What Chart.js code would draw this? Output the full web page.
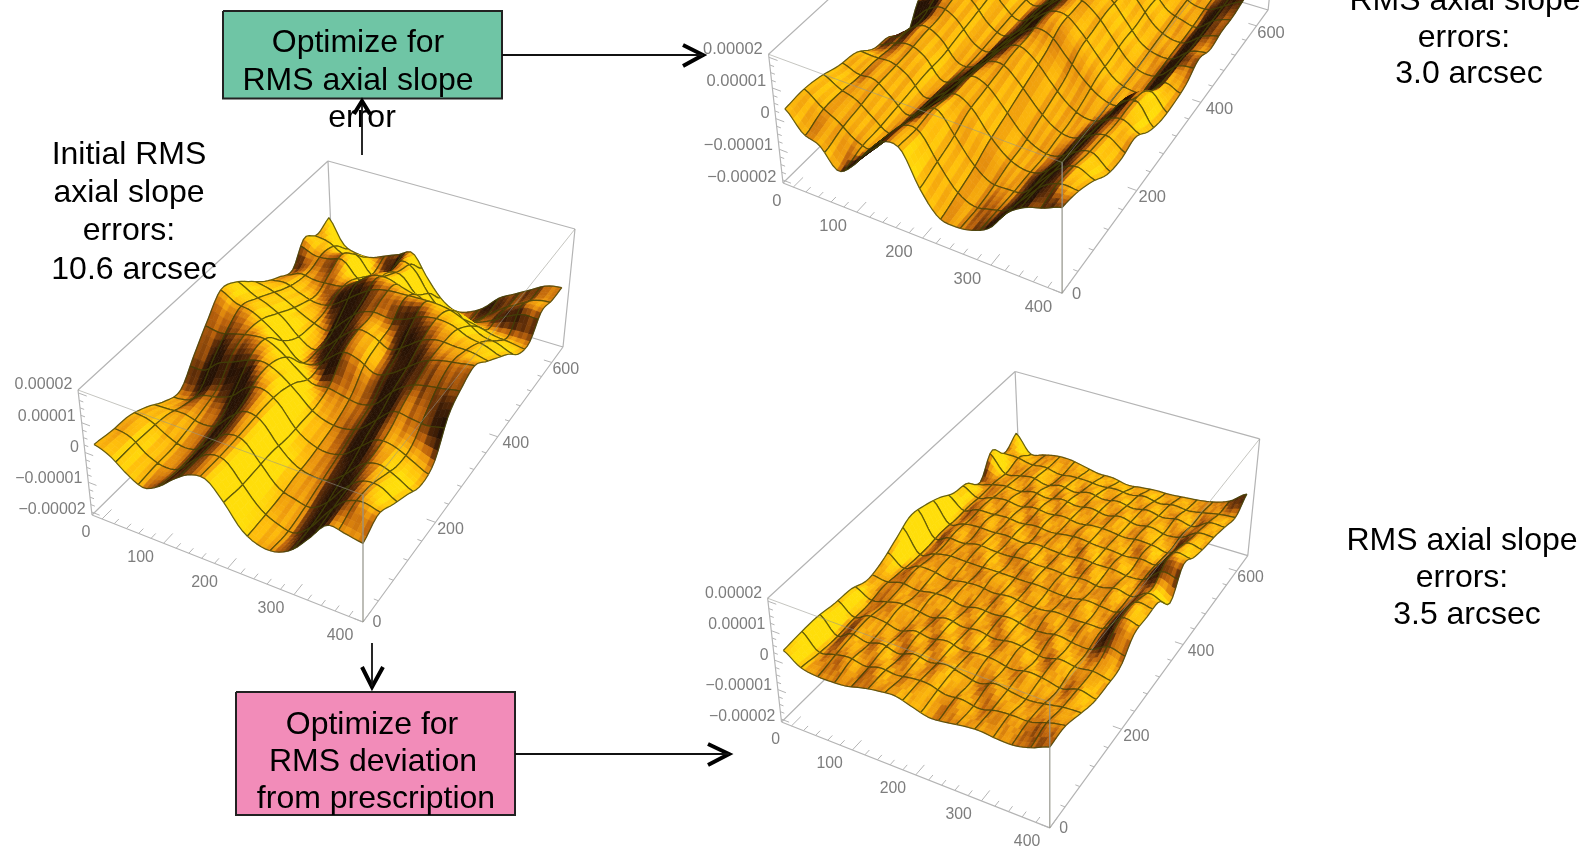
<!DOCTYPE html>
<html><head><meta charset="utf-8">
<style>html,body{margin:0;padding:0;background:#fff;overflow:hidden}#wrap{width:1587px;height:850px}</style>
<script src="https://cdn.jsdelivr.net/npm/chart.js@4"></script></head>
<body><div id="wrap"><canvas id="c" width="1587" height="850"></canvas></div>
<script>
// Surface heights in units of 1e-6, rows y = 0..600, columns x = 0..400
const heightsInitial = [
[4,2,-2,-4.5,-2,2.5,6,6.5,1,-6,-9,-9,-6,0,6.5,6,5],
[3,2,-2,-4,-3,2,6,6,0,-6,-9,-10,-6,1,7,9,8],
[2.5,1.5,-2,-4,-3,2,6,6,0,-6,-8,-9,-5,2,7,8,5],
[0,0,-1,-3,-2,3,7,6,0,-5,-7,-7,-3,3,6,5,2],
[-3.5,-3,-1,-1,0,5,8,6,-1,-5,-6,-5,-1,4,5,2,-1],
[-5,-4,0,2,5,9,9,5,-1,-4,-5,-3,2,6,5,3,1],
[2,2,6,8,10,10,7,3,-1,-3,-3,-1,4,9,9,9,11],
[9,8,9,10,10,7,3,0,1,0,-1,1,7,11,13,14,15],
[15,12,11,8,4,-1,-1,3,7,6,3,5,9,13,15,16,17],
[13,10,8,5,0,-3,0,5,9,8,5,8,12,14,14,14,13],
[8.5,7,5,2,-1,-3,2,7,9,8,9,12,14,14,12,11,9],
[4,4,2,0,-1,1,5,9,11,12,13,14,13,11,8,7,5],
[1,2,0,-1,1,5,9,11,11,10,9,8,8,6,3,2,0],
[-1,1,1,2,1,3,7,7,4,2,0,-1,-1,-1,-1,-1,-1],
[6,3,3,4,-2,-4,3,4,-2,-7,-9,-8,-5,-2,2,5,5],
[3,2,-1,0,-5,-4,3,1,-6,-11,-13,-11,-7,-3,0,3,4],
[5,-3,-5,-5,-3,-1,1,-6,-12,-15,-14,-11,-6,-3,0,3,4]];
const heightsSlope = [
[4.5,-1.5,-3.5,-9.5,-6,1,6,5.5,-5,-12,-13,-12,-9,-2,2,4,6.5],
[5,1,-2,-6,-7,-1,5,5,-3,-10,-13,-12,-10,-4,2,5,5],
[4,1,-1,-5,-8,-3,3,6,-1,-8,-12,-12,-11,-5,1,4,2],
[2,0,0,-4,-8,-4,1,5,2,-5,-10,-12,-11,-6,0,2,-2],
[1,0,0,-3,-8,-5,0,5,3,-3,-9,-12,-12,-8,-1,1,-3],
[-3,-1,0,-2,-8,-6,-1,4,4,-1,-7,-11,-12,-9,-2,0,-2],
[-4,-1,1,-2,-8,-7,-2,3,5,1,-5,-10,-12,-10,-3,0,-6],
[-9,-2,1,-1,-7,-8,-3,2,5,3,-3,-8,-11,-11,-4,-1,-8],
[-1,1,3,0,-6,-8,-4,1,6,6,1,-5,-10,-12,-11,-5,-8],
[-1,1,3,1,-5,-8,-5,1,5,6,2,-4,-10,-12,-11,-6,-7],
[-1,1,3,2,-4,-8,-5,0,5,6,3,-3,-9,-12,-11,-6,-4],
[-2,0,2,2,-4,-8,-6,0,5,6,3,-3,-9,-11,-11,-7,-6],
[-3,0,2,2,-3,-8,-6,-1,4,6,4,-2,-8,-11,-11,-7,-5],
[-4,-1,2,2,-3,-8,-6,-1,4,6,4,-2,-8,-10,-11,-7,-5],
[-4,-1,1,2,-2,-7,-6,-1,4,6,4,-1,-7,-10,-10,-7,-4],
[-3,-1,1,2,-2,-7,-6,-1,4,5,4,-1,-7,-9,-10,-7,-3],
[-2,0,1,1,-2,-6,-5,-1,3,5,3,-1,-6,-9,-9,-6,-2]];
const heightsPrescription = [
[4.6,1,0,0,0.5,2,3,3.5,2,0.5,1,2,2.5,2,2,3.5,6],
[5,0,1,2,1,2.5,2,3,3,1.5,2,1,2.5,3,3,5,6.3],
[5,-0.5,2,1,2.5,1,3,2,3.5,2,1,3,2,1.5,2.5,3.5,4],
[4,0,2.5,2,1,3,2,3.5,2,3,2.5,1.5,3,2,1,3,1.8],
[3.6,0,1.5,3,2,1.5,3.5,2,3,1.5,3,2.5,1,3,2,2.5,1.5],
[1.5,1,2,1.5,3,2.5,1.5,3,2,3.5,2,1.5,3,1.5,1.5,3.5,2],
[3,0.5,3,2.5,1.5,3,2.5,2,3.5,2,2.5,3,2,3,3,8,7.3],
[6,0,2,3,2.5,2,3.5,3,2,3,1.5,2.5,3.5,2,3,9,7.5],
[9,0,1.5,2.5,3,3.5,2,2.5,3.5,2.5,3,2,2.5,3.5,2.5,7,7.3],
[8,0.5,2.5,1.5,3,2,3,3.5,2,3,2,3.5,2,3,2.5,5,1.6],
[6,0,1.5,3,2,3,1.5,2.5,3,2,3.5,2,3,1.5,3,9,9.5],
[3,0,2,1.5,2.5,1.5,3,2,2.5,3.5,2,2.5,1.5,3,2,8,7],
[2,-0.5,1,2,1,2.5,1.5,2.5,1.5,2,2.5,1.5,2.5,1.5,1,6,5.5],
[-2,-0.5,0.5,0,1.5,0.5,2,1,2,1,2,1,1.5,0.5,1.5,4.5,4.6],
[5,-1,-0.5,0.5,-1,0.5,-0.5,1,0,1,0,1,0,1,0,3,3],
[0,0,-1,-0.5,-1.5,-1,-1,-1.5,-1,-1.5,-0.5,-1.5,-0.5,-1,0,1,1.6],
[3,-3,-2,-1,-1,-2,-3,-3,-4,-3.5,-3,-3,-2.5,-2,-1,1,5]];
const xTicks = [0,100,200,300,400];
const yTicks = [0,200,400,600];
const zTicks = [0.00002,0.00001,0,-0.00001,-0.00002];
const zTickLabels = ['0.00002','0.00001','0','\u22120.00001','\u22120.00002'];
const captions = [
 ['Optimize for',358,43.5],['RMS axial slope',358,81],['error',362,118],
 ['Initial RMS',129,155],['axial slope',129,193],['errors:',129,231],['10.6 arcsec',134,270],
 ['RMS axial slope',1465,1],['errors:',1464,38],['3.0 arcsec',1469,74],
 ['RMS axial slope',1462,541],['errors:',1462,578],['3.5 arcsec',1467,615],
 ['Optimize for',372,725],['RMS deviation',373,762],['from prescription',376,799]];
// fine shading streaks across x, hand-set per control interval quarter
const streaks=[.03,-.05,.06,-.02,.08,-.07,.02,.05,-.08,.04,-.03,.07,-.06,.01,.05,-.04,.08,-.05,-.01,.06,-.07,.03,.06,-.03,-.08,.05,.02,-.06,.07,-.02,.04,-.07];

const topC=[[78,390],[363,495],[575,229],[328,161]], botC=[[92,515],[363,622],[563,347],[333,278]];
const plots=[
 {h:heightsInitial,ox:92,oy:515,s:1,base:.6,dark:.105,bright:.075,mx:12,my:14,st:.7,blotch:0},
 {h:heightsSlope,ox:783,oy:183,s:1.03,base:.64,dark:.17,bright:.028,mx:14,my:15,st:1,blotch:0},
 {h:heightsPrescription,ox:781.5,oy:722,s:0.99,base:.62,dark:.085,bright:.085,mx:15,my:15,st:.8,blotch:1}];
const U0=0.04,V1=0.95,ZR=21;
function homog(p){const [[x0,y0],[x1,y1],[x2,y2],[x3,y3]]=p;
 const dx1=x1-x2,dx2=x3-x2,sx=x0-x1+x2-x3,dy1=y1-y2,dy2=y3-y2,sy=y0-y1+y2-y3,den=dx1*dy2-dx2*dy1;
 const g=(sx*dy2-dx2*sy)/den,h=(dx1*sy-sx*dy1)/den;
 const a=x1-x0+g*x1,b=x3-x0+h*x3,d=y1-y0+g*y1,e=y3-y0+h*y3;
 return (u,v)=>{const w=g*u+h*v+1;return [(a*u+b*v+x0)/w,(d*u+e*v+y0)/w];};}
const HT=homog(topC),HB=homog(botC);
function proj(pl,u,v,z){const t=(z+ZR)/(2*ZR),a=HB(u,v),b=HT(u,v);
 return {x:pl.ox+pl.s*(a[0]+(b[0]-a[0])*t-92),y:pl.oy+pl.s*(a[1]+(b[1]-a[1])*t-515)};}
const gridU=i=>U0+(1-U0)*i/16, gridV=j=>V1*j/16;
const axU=x=>U0+(1-U0)*x/400, axV=y=>0.93*y/600;
function cr(a,b,c,d,t){return b+.5*t*(c-a+t*(2*a-5*b+4*c-d+t*(3*(b-c)+d-a)));}
function zAt(h,fi,fj){const n=16,i=Math.min(Math.floor(fi),n-1),j=Math.min(Math.floor(fj),n-1),s=fi-i,t=fj-j;
 const cl=k=>Math.max(0,Math.min(n,k));const row=r=>cr(h[r][cl(i-1)],h[r][i],h[r][i+1],h[r][cl(i+2)],s);
 return cr(row(cl(j-1)),row(j),row(j+1),row(cl(j+2)),t);}
const stops=[[0,[38,18,5]],[.22,[92,44,8]],[.42,[190,100,12]],[.6,[236,150,14]],[.78,[255,190,12]],[1,[255,222,10]]];
function shade(L){L=Math.max(0,Math.min(1,L));for(let k=1;k<stops.length;k++){if(L<=stops[k][0]){const a=stops[k-1],b=stops[k],t=(L-a[0])/(b[0]-a[0]);
 return 'rgb('+[0,1,2].map(q=>Math.round(a[1][q]+(b[1][q]-a[1][q])*t)).join(',')+')';}}return 'rgb(255,222,10)';}
function seg(list,p,q){list.push(p,q,{x:NaN,y:NaN});}
function boxLines(pl){const c=(u,v,z)=>proj(pl,u,v,z),back=[],front=[],ticks=[];
 const Z=ZR;
 seg(back,c(0,0,Z),c(0,1,Z));seg(back,c(0,1,Z),c(1,1,Z));seg(back,c(0,0,-Z),c(0,1,-Z));seg(back,c(0,1,-Z),c(1,1,-Z));seg(back,c(0,1,Z),c(0,1,-Z));
 seg(back,c(0,0,Z),c(0,0,-Z));seg(back,c(1,1,Z),c(1,1,-Z));seg(back,c(0,0,-Z),c(1,0,-Z));seg(back,c(1,0,-Z),c(1,1,-Z));
 seg(front,c(0,0,Z),c(1,0,Z));seg(front,c(1,0,Z),c(1,1,Z));seg(front,c(1,0,Z),c(1,0,-Z));
 for(let x=0;x<=400;x+=20){const L=x%100==0?.032:.016;seg(ticks,c(axU(x),0,-Z),c(axU(x),L,-Z));}
 for(let y=0;y<=600;y+=40){const L=y%200==0?.032:.016;seg(ticks,c(1,axV(y),-Z),c(1-L,axV(y),-Z));}
 for(let z=-20;z<=20;z+=2.5){const L=z%10==0?.032:.016;seg(ticks,c(0,0,z),c(L,0,z));}
 return {back,front,ticks};}
const G='#b4b4b4';
const lineDs=(data,color,w,extra)=>Object.assign({type:'scatter',data,showLine:true,spanGaps:false,pointRadius:0,borderColor:color,borderWidth:w,fill:false},extra||{});
const datasets=[];
plots.forEach((pl,k)=>{const b=boxLines(pl);
 datasets.push(lineDs(b.back,G,1.2,{label:'box back '+k,order:30}));
 datasets.push(lineDs(b.ticks,G,1,{label:'ticks '+k,order:29}));
 const pts=[];pl.h.forEach((r,j)=>r.forEach((z,i)=>pts.push(proj(pl,gridU(i),gridV(j),z))));
 datasets.push({type:'scatter',label:'surface '+k,data:pts,pointRadius:0,showLine:false,order:20,surface:pl});
 datasets.push(lineDs(b.front,'rgba(150,150,140,.55)',1,{label:'box front '+k,order:10}));
});
const box1=[{x:223,y:11},{x:502,y:11},{x:502,y:98.5},{x:223,y:98.5},{x:223,y:11}];
const box2=[{x:236,y:692},{x:515,y:692},{x:515,y:815},{x:236,y:815},{x:236,y:692}];
datasets.push(lineDs(box1,'#222',2,{label:'box optimize slope',fill:'shape',backgroundColor:'#6fc5a5',order:8}));
datasets.push(lineDs(box2,'#222',2,{label:'box optimize deviation',fill:'shape',backgroundColor:'#f28cb9',order:8}));
const shafts=[];seg(shafts,{x:502,y:55},{x:703,y:55});seg(shafts,{x:372,y:643},{x:372,y:686});seg(shafts,{x:515,y:754},{x:729,y:754});
const heads=[];
[[[683,45],[703,55],[683,66]],[[362,667],[372,687],[383,667]],[[708,744],[729,754],[708,765]]].forEach(h=>{h.forEach(p=>heads.push({x:p[0],y:p[1]}));heads.push({x:NaN,y:NaN});});
datasets.push(lineDs(shafts,'#111',1.8,{label:'arrows',order:2}));
datasets.push(lineDs(heads,'#000',4,{label:'arrow heads',order:2}));

const surfacePlugin={id:'surface',
 beforeDatasetDraw(chart,args){const ds=chart.data.datasets[args.index];if(!ds.surface)return;
  const pl=ds.surface,h=pl.h,ctx=chart.ctx,sx=chart.scales.x,sy=chart.scales.y;
  const KX=16/pl.mx,KY=16/pl.my,NX=5,NY=5;
  const P=(fi,fj)=>{const q=proj(pl,gridU(fi),gridV(fj),zAt(h,fi,fj));return [sx.getPixelForValue(q.x),sy.getPixelForValue(q.y)];};
  ctx.save();ctx.lineJoin='round';
  for(let j=pl.my-1;j>=0;j--)for(let i=0;i<pl.mx;i++){
   for(let b=NY-1;b>=0;b--)for(let a=0;a<NX;a++){
    const f0=(i+a/NX)*KX,f1=(i+(a+1)/NX)*KX,g0=(j+b/NY)*KY,g1=(j+(b+1)/NY)*KY,fm=(f0+f1)/2,gm=(g0+g1)/2;
    const s=(zAt(h,f1,gm)-zAt(h,f0,gm))/(f1-f0),t=(zAt(h,fm,g1)-zAt(h,fm,g0))/(g1-g0);
    let k=Math.floor(fm*4);if(pl.blotch)k+=Math.floor(gm*3)*7;
    const st=streaks[k%streaks.length]*pl.st;
    const L=pl.base-(s>0?pl.dark:pl.bright)*s-.045*t+st,c=shade(L);
    ctx.beginPath();let p=P(f0,g0);ctx.moveTo(p[0],p[1]);p=P(f1,g0);ctx.lineTo(p[0],p[1]);p=P(f1,g1);ctx.lineTo(p[0],p[1]);p=P(f0,g1);ctx.lineTo(p[0],p[1]);ctx.closePath();
    ctx.fillStyle=c;ctx.strokeStyle=c;ctx.lineWidth=.7;ctx.fill();ctx.stroke();}
   ctx.strokeStyle='rgba(66,66,8,.8)';ctx.lineWidth=1.25;ctx.beginPath();
   const edge=(a0,b0,a1,b1)=>{for(let m=0;m<=NY;m++){const p=P((a0+(a1-a0)*m/NY)*KX,(b0+(b1-b0)*m/NY)*KY);m?ctx.lineTo(p[0],p[1]):ctx.moveTo(p[0],p[1]);}};
   edge(i,j,i+1,j);edge(i,j+1,i+1,j+1);edge(i,j,i,j+1);edge(i+1,j,i+1,j+1);ctx.stroke();
  }
  ctx.restore();},
 afterDatasetsDraw(chart){const ctx=chart.ctx,sx=chart.scales.x,sy=chart.scales.y;ctx.save();
  ctx.textBaseline='middle';
  const yDx=[14,15,18,14],yDy=[1,7,7,7];
  plots.forEach(pl=>{ctx.font=(16*pl.s).toFixed(1)+'px "Liberation Sans"';ctx.fillStyle='#7d7d7d';
   const put=(txt,q,dx,dy,al)=>{ctx.textAlign=al;ctx.fillText(txt,sx.getPixelForValue(q.x)+dx*pl.s,sy.getPixelForValue(q.y)+dy*pl.s);};
   xTicks.forEach(x=>put(String(x),proj(pl,axU(x),0,-ZR),x==0?-16:-23,14,'center'));
   yTicks.forEach((y,k)=>put(String(y),proj(pl,1,axV(y),-ZR),yDx[k],yDy[k],'center'));
   zTicks.forEach((z,k)=>put(zTickLabels[k],proj(pl,0,0,z*1e6),-6,-5-z*1.5e5,'right'));
  });
  ctx.font='32px "Liberation Sans"';ctx.fillStyle='#000';ctx.textAlign='center';
  captions.forEach(c=>ctx.fillText(c[0],sx.getPixelForValue(c[1]),sy.getPixelForValue(c[2])));
  // the upward arrow crosses the word "error", so it is stroked after the captions
  const X=v=>sx.getPixelForValue(v),Y=v=>sy.getPixelForValue(v);
  ctx.strokeStyle='#111';ctx.lineWidth=1.8;ctx.beginPath();ctx.moveTo(X(362),Y(155));ctx.lineTo(X(362),Y(102));ctx.stroke();
  ctx.strokeStyle='#000';ctx.lineWidth=4;ctx.beginPath();ctx.moveTo(X(354),Y(114));ctx.lineTo(X(362),Y(101));ctx.lineTo(X(370),Y(114));ctx.stroke();
  ctx.restore();}
};
new Chart(document.getElementById('c'),{data:{datasets},plugins:[surfacePlugin],options:{
 responsive:false,animation:false,layout:{padding:0},events:[],
 plugins:{legend:{display:false},tooltip:{enabled:false},title:{display:false}},
 scales:{x:{type:'linear',min:0,max:1587,display:false},y:{type:'linear',min:0,max:850,reverse:true,display:false}},
 elements:{line:{tension:0}}}});
</script></body></html>
